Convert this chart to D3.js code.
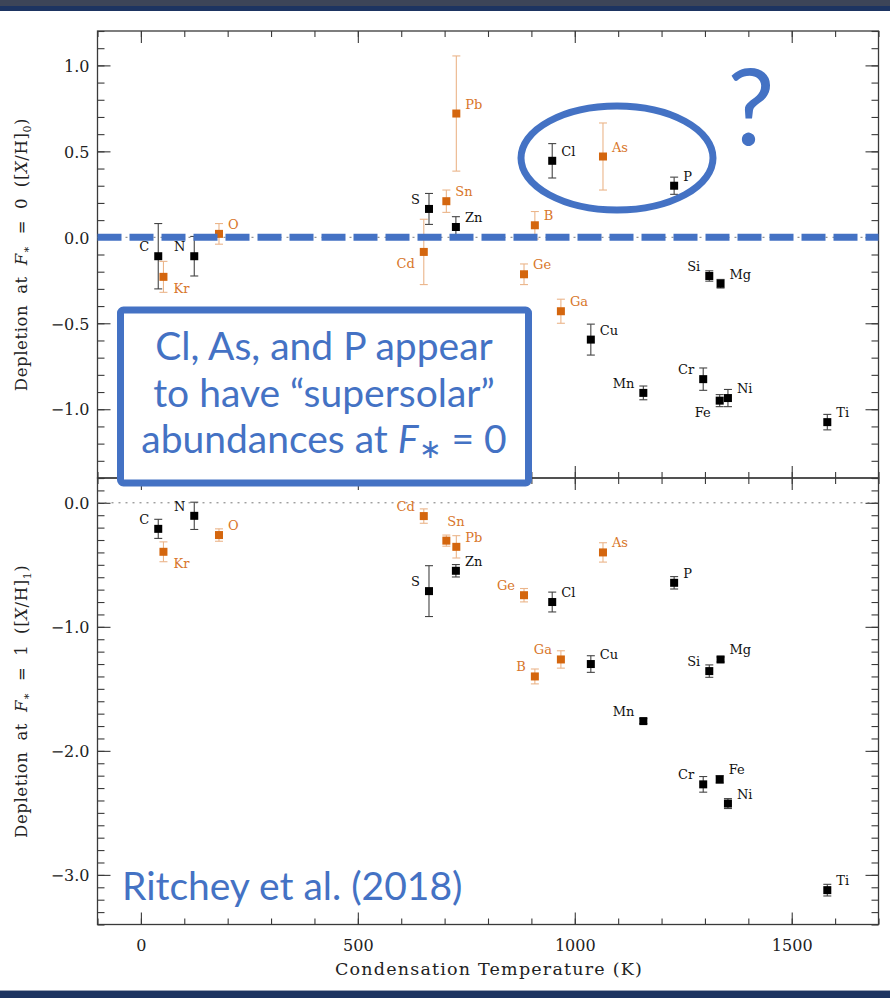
<!DOCTYPE html>
<html><head><meta charset="utf-8">
<script src="https://cdn.jsdelivr.net/npm/d3@7"></script>
<style>body{margin:0;background:#fff;} svg{display:block;}</style>
</head><body>
<svg id="chart" width="890" height="998"></svg>
<script>
// ---------------- DATA ----------------
const elements   = ["C","Kr","N","O","Cd","S","Sn","Zn","Pb","Ge","B","Cl","Ga","Cu","As","Mn","P","Cr","Si","Fe","Mg","Ni","Ti"];
const condTempK  = [40,52,123,180,652,664,704,726,727,883,908,948,968,1037,1065,1158,1229,1296,1310,1334,1336,1353,1582];
const orangeGroup= [0,1,0,1,1,0,1,0,1,1,1,0,1,0,1,0,0,0,0,0,0,0,0];
const depletionF0 = [-0.11,-0.23,-0.11,0.02,-0.085,0.165,0.21,0.06,0.72,-0.215,0.07,0.445,-0.43,-0.595,0.47,-0.905,0.30,-0.825,-0.225,-0.95,-0.27,-0.935,-1.075];
const errorF0     = [0.19,0.09,0.115,0.06,0.19,0.09,0.065,0.06,0.335,0.06,0.08,0.10,0.07,0.09,0.195,0.04,0.05,0.065,0.03,0.035,0.025,0.05,0.045];
const depletionF1 = [-0.21,-0.395,-0.105,-0.26,-0.107,-0.712,-0.305,-0.548,-0.355,-0.745,-1.40,-0.80,-1.263,-1.30,-0.40,-1.76,-0.645,-2.27,-1.357,-2.23,-1.263,-2.425,-3.123];
const errorF1     = [0.077,0.08,0.11,0.05,0.058,0.205,0.045,0.05,0.09,0.054,0.06,0.08,0.07,0.067,0.078,0.02,0.05,0.063,0.05,0.03,0.02,0.04,0.047];
// label placement codes (ur = upper right, ul = upper left, lr = lower right, ll = lower left, u = above)
const labelPlaceF0 = ["ul","lr","ul","ur","ll","ul","ur","ur","ur","ur","ur","ur","ur","ur","ur","ul","ur","ul","ul","ll","ur","ur","ur"];
const labelPlaceF1 = ["ul","lr","ul","ur","ul","ul","u","ur","ur","ul","ul","ur","ul","ur","ur","ul","ur","ul","ul","ur","ur","ur","ur"];
const xTicksMajor = [0,500,1000,1500];
const yTicksTopMajor = [-1.0,-0.5,0.0,0.5,1.0];
const yTicksBotMajor = [-3,-2,-1,0];
const xLabel = "Condensation Temperature (K)";

// ---------------- LAYOUT ----------------
const svg = d3.select("#chart");
const L = 97.5, R = 878.5, T1 = 31, B1 = 478, T2 = 478, B2 = 924.5;
const x = d3.scaleLinear().domain([-100,1700]).range([L,R]);
const yTop = d3.scaleLinear().domain([-1.4,1.2]).range([B1,T1]);
const yBot = d3.scaleLinear().domain([-3.4,0.2]).range([B2,T2]);
const serif = "'DejaVu Serif', 'Liberation Serif', serif";
const blue = "#4472C4", orange = "#d4660e", orangeErr = "#ebb58a", frameCol = "#3a3a3a";

// banners
svg.append("rect").attr("x",0).attr("y",0).attr("width",890).attr("height",6).attr("fill","#3d4558");
svg.append("rect").attr("x",0).attr("y",6).attr("width",890).attr("height",5).attr("fill","#1d3461");
svg.append("rect").attr("x",0).attr("y",991).attr("width",890).attr("height",7).attr("fill","#1d3461");
svg.append("line").attr("x1",0).attr("x2",890).attr("y1",990.5).attr("y2",990.5).attr("stroke","#9aa3b5");

const xMinor = d3.range(-100,1701,100);
function seq(a,b,s){const r=[];for(let v=a;v<=b+1e-9;v+=s) r.push(Math.round(v*10)/10);return r;}

function panel(yScale, top, bottom, minorY, majorY, fmt, showXLabels){
  const g = svg.append("g");
  const gl1 = g.append("g").attr("transform",`translate(${L},0)`).call(d3.axisLeft(yScale).tickValues(minorY).tickSize(-7).tickFormat(""));
  const gl2 = g.append("g").attr("transform",`translate(${L},0)`).call(d3.axisLeft(yScale).tickValues(majorY).tickSize(-13).tickPadding(8).tickFormat(fmt));
  const gr1 = g.append("g").attr("transform",`translate(${R},0)`).call(d3.axisRight(yScale).tickValues(minorY).tickSize(-7).tickFormat(""));
  const gr2 = g.append("g").attr("transform",`translate(${R},0)`).call(d3.axisRight(yScale).tickValues(majorY).tickSize(-13).tickFormat(""));
  const gt1 = g.append("g").attr("transform",`translate(0,${top})`).call(d3.axisTop(x).tickValues(xMinor).tickSize(-6).tickFormat(""));
  const gt2 = g.append("g").attr("transform",`translate(0,${top})`).call(d3.axisTop(x).tickValues(xTicksMajor).tickSize(-12).tickFormat(""));
  const gb1 = g.append("g").attr("transform",`translate(0,${bottom})`).call(d3.axisBottom(x).tickValues(xMinor).tickSize(-6).tickFormat(""));
  const gb2 = g.append("g").attr("transform",`translate(0,${bottom})`).call(d3.axisBottom(x).tickValues(xTicksMajor).tickSize(-12).tickPadding(15.5).tickFormat(showXLabels ? d3.format("d") : ""));
  [gl1,gl2,gr1,gr2,gt1,gt2,gb1,gb2].forEach(a=>{
    a.select(".domain").remove();
    a.selectAll("line").attr("stroke",frameCol).attr("stroke-width",1.1);
    a.selectAll("text").attr("font-family",serif).attr("font-size",16).attr("fill","#222");
  });
  gl2.selectAll("text").attr("dy","0.36em");
  g.append("rect").attr("x",L).attr("y",top).attr("width",R-L).attr("height",bottom-top)
    .attr("fill","none").attr("stroke",frameCol).attr("stroke-width",1.3);
  g.append("line").attr("x1",L).attr("x2",R).attr("y1",yScale(0)).attr("y2",yScale(0))
    .attr("stroke","#777").attr("stroke-width",1).attr("stroke-dasharray","2,5");
  return g;
}

panel(yTop, T1, B1, seq(-1.4,1.2,0.1), yTicksTopMajor, d3.format(".1f"), false);
panel(yBot, T2, B2, seq(-3.4,0.2,0.1), yTicksBotMajor, d3.format(".1f"), true);

const placeOffsets = {
  ur:{dx:9,dy:-5,anchor:"start"}, ul:{dx:-9,dy:-5,anchor:"end"},
  lr:{dx:10,dy:16,anchor:"start"}, ll:{dx:-9,dy:16,anchor:"end"},
  u:{dx:1,dy:-15,anchor:"start"}
};

function drawPoints(yScale, vals, errs, places){
  const data = elements.map((e,i)=>({el:e,t:condTempK[i],v:vals[i],e:errs[i],o:orangeGroup[i],p:places[i]}));
  const g = svg.append("g");
  const pts = g.selectAll("g.pt").data(data).join("g").attr("class","pt");
  pts.append("line").attr("x1",d=>x(d.t)).attr("x2",d=>x(d.t))
    .attr("y1",d=>yScale(d.v-d.e)).attr("y2",d=>yScale(d.v+d.e))
    .attr("stroke",d=>d.o?orangeErr:"#444").attr("stroke-width",1.1);
  [-1,1].forEach(s=>{
    pts.append("line").attr("x1",d=>x(d.t)-4).attr("x2",d=>x(d.t)+4)
      .attr("y1",d=>yScale(d.v+s*d.e)).attr("y2",d=>yScale(d.v+s*d.e))
      .attr("stroke",d=>d.o?orangeErr:"#444").attr("stroke-width",1.1);
  });
  pts.append("rect").attr("x",d=>x(d.t)-4).attr("y",d=>yScale(d.v)-4).attr("width",8).attr("height",8)
    .attr("fill",d=>d.o?orange:"#000");
  pts.append("text").text(d=>d.el)
    .attr("x",d=>x(d.t)+placeOffsets[d.p].dx).attr("y",d=>yScale(d.v)+placeOffsets[d.p].dy)
    .attr("text-anchor",d=>placeOffsets[d.p].anchor)
    .attr("font-family",serif).attr("font-size",13)
    .attr("fill",d=>d.o?"#d8762a":"#111");
}
drawPoints(yTop, depletionF0, errorF0, labelPlaceF0);
drawPoints(yBot, depletionF1, errorF1, labelPlaceF1);

// axis titles
svg.append("text").attr("x",(L+R)/2+1).attr("y",975).attr("text-anchor","middle")
  .attr("font-family",serif).attr("font-size",17.5).attr("letter-spacing","1.2px").attr("fill","#222").text(xLabel);

function yTitle(cy, idx){
  const t = svg.append("text").attr("transform",`translate(27,${cy}) rotate(-90)`)
    .attr("text-anchor","middle").attr("font-family",serif).attr("font-size",16.5).attr("fill","#222")
    .attr("letter-spacing","0.6px").attr("word-spacing","5px");
  t.append("tspan").text("Depletion at ");
  t.append("tspan").attr("font-style","italic").text("F");
  t.append("tspan").attr("font-size",11).attr("dy",3).text("∗");
  t.append("tspan").attr("dy",-3).text(` = ${idx} ([`);
  t.append("tspan").attr("font-style","italic").text("X");
  t.append("tspan").text("/H]");
  t.append("tspan").attr("font-size",11).attr("dy",4).text(idx);
  t.append("tspan").attr("dy",-4).text(")");
}
yTitle((T1+B1)/2, "0");
yTitle((T2+B2)/2, "1");

// ---------------- ANNOTATIONS ----------------
const sans = "Lato, 'Open Sans', sans-serif";
svg.append("line").attr("x1",L).attr("x2",R).attr("y1",yTop(0)).attr("y2",yTop(0))
  .attr("stroke",blue).attr("stroke-width",7).attr("stroke-dasharray","24,8");
svg.append("ellipse").attr("cx",617).attr("cy",158).attr("rx",96).attr("ry",52)
  .attr("fill","none").attr("stroke",blue).attr("stroke-width",7);
svg.append("text").attr("x",751).attr("y",145).attr("text-anchor","middle")
  .attr("font-family",sans).attr("font-size",106).attr("fill",blue).text("?");
svg.append("rect").attr("x",120.5).attr("y",310).attr("width",408).attr("height",173).attr("rx",3)
  .attr("fill","#fff").attr("stroke",blue).attr("stroke-width",7);
const boxFont = 39;
const boxLines = ["Cl, As, and P appear","to have \u201Csupersolar\u201D"];
boxLines.forEach((s,i)=>{
  svg.append("text").attr("x",324).attr("y",360+i*46.5).attr("text-anchor","middle")
    .attr("font-family",sans).attr("font-size",boxFont).attr("fill",blue).text(s);
});
const l3 = svg.append("text").attr("x",324).attr("y",453).attr("text-anchor","middle")
  .attr("font-family",sans).attr("font-size",boxFont).attr("fill",blue);
l3.append("tspan").text("abundances at ");
l3.append("tspan").attr("font-style","italic").text("F");
l3.append("tspan").attr("font-size",27).attr("dy",5).text("\u2217");
l3.append("tspan").attr("dy",-5).text(" = 0");
svg.append("text").attr("x",122).attr("y",900).attr("font-family",sans).attr("font-size",boxFont)
  .attr("fill",blue).text("Ritchey et al. (2018)");
</script>
</body></html>
